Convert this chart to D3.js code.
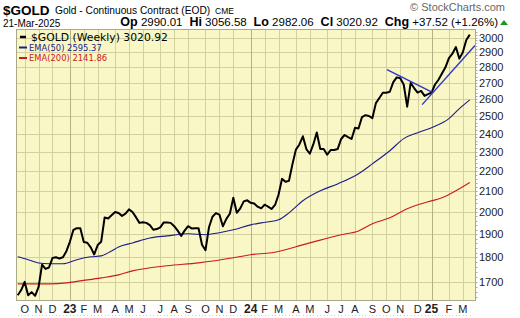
<!DOCTYPE html>
<html><head><meta charset="utf-8">
<script src="https://cdn.jsdelivr.net/npm/d3@7"></script>
<style>html,body{margin:0;padding:0;background:#fff;} svg{display:block;} text{white-space:pre;}</style>
</head><body><svg id="c" width="520" height="318"></svg>
<script>
// ---- data (weekly closes, Fridays from 23-Sep-2022 to 21-Mar-2025) ----
const firstWeek = new Date(2022, 8, 23);
const lastWeek = new Date(2025, 2, 21);
const closes = [
  1648,1668,1700,1648,1660,1646,1680,1770,1752,1758,1797,1800,1795,1800,1826,
  1866,1918,1926,1926,1865,1862,1842,1812,1852,1866,1975,1970,1985,2000,1995,
  1982,1992,2012,2000,1976,1950,1953,1950,1940,1919,1922,1930,1952,1952,1950,
  1935,1915,1892,1915,1935,1925,1926,1926,1853,1830,1930,1978,1995,1988,1935,
  1968,1992,2067,1996,2017,2050,2055,
  2043,2040,2025,2017,2034,2025,2014,2033,2082,2160,2146,2150,2235,2312,2340,
  2385,2315,2290,2340,2406,2315,2315,2285,2310,2310,2315,2370,2392,2380,2370,
  2433,2428,2494,2505,2500,2488,2576,2607,2639,2639,2645,2705,2735,2730,2690,
  2555,2700,2668,2640,2650,2620,2630,
  2640,2690,2720,2760,2800,2860,2890,2935,2857,2900,2983.4,3020.92
];
// EMA readings: [week index, value]
const ema50 = [[0,1802],[3,1790],[6,1776],[9,1773],[13,1773],[17,1790],[21,1802],[24,1806],
  [27,1827],[29,1844],[33,1861],[38,1883],[43,1892],[49,1901],[54,1897],[58,1906],[62,1919],
  [67,1941],[70,1950],[75,1964],[78,1996],[82,2053],[87,2101],[92,2135],[98,2186],[102,2237],
  [107,2306],[111,2372],[115,2405],[119,2433],[124,2485],[127,2543],[130,2595.37]];
const ema200 = [[0,1692],[9,1692],[14,1696],[18,1704],[24,1716],[29,1728],[33,1744],[43,1765],
  [52,1777],[62,1798],[67,1811],[73,1819],[83,1857],[93,1897],[98,1914],[102,1946],[107,1973],
  [112,2015],[118,2048],[122,2067],[126,2101],[130,2141.86]];
const trendDown = [[106.2,2785],[119.4,2639]];
const trendUp = [[116.3,2567],[131.5,2945]];
const yTicks = [1700,1800,1900,2000,2100,2200,2300,2400,2500,2600,2700,2800,2900,3000];
const monthLabels = ["O","N","D","23","F","M","A","M","J","J","A","S","O","N","D","24",
  "F","M","A","M","J","J","A","S","O","N","D","25","F","M"];

// ---- chart ----
const svg = d3.select("#c");
const L = 16.5, R = 475.5, T = 29.5, B = 300.5;
const dates = d3.timeFriday.range(firstWeek, d3.timeDay.offset(lastWeek, 1));
const x = d3.scaleLinear().domain([-0.35, 131.5]).range([L, 475]);
const y = d3.scaleLog().domain([1628, 3057]).range([B, T]);

svg.append("rect").attr("width",520).attr("height",318).attr("fill","#fff");
svg.append("rect").attr("x",L).attr("y",T).attr("width",R-L).attr("height",B-T).attr("fill","#f9f7c5");

// month starts
const monthIdx = [];
dates.forEach((d,i)=>{ if(i>0 && d.getMonth()!==dates[i-1].getMonth()) monthIdx.push(i); });

const grid = svg.append("g");
yTicks.forEach(v=>{
  grid.append("line").attr("x1",L).attr("x2",R).attr("y1",Math.round(y(v))+0.5).attr("y2",Math.round(y(v))+0.5)
    .attr("stroke","#d3d1a0").attr("stroke-width",1);
});
monthIdx.forEach((i,k)=>{
  const isYear = dates[i].getMonth()===0;
  const xx = Math.round(x(i))+0.5;
  grid.append("line").attr("x1",xx).attr("x2",xx).attr("y1",T).attr("y2",B)
    .attr("stroke", isYear? "#b3b186":"#d3d1a0").attr("stroke-width",1);
});

// lines
svg.append("clipPath").attr("id","pc").append("rect").attr("x",L).attr("y",T).attr("width",R-L).attr("height",B-T);
const pg = svg.append("g").attr("clip-path","url(#pc)");
const lineIdx = d3.line().x(d=>x(d[0])).y(d=>y(d[1])).curve(d3.curveMonotoneX);
pg.append("path").datum(ema200).attr("d",lineIdx).attr("fill","none").attr("stroke","#cc1a1a").attr("stroke-width",1.1);
pg.append("path").datum(ema50).attr("d",lineIdx).attr("fill","none").attr("stroke","#1c1c8a").attr("stroke-width",1.1);
pg.append("path").datum(closes.map((v,i)=>[i,v])).attr("d",d3.line().x(d=>x(d[0])).y(d=>y(d[1])))
  .attr("fill","none").attr("stroke","#000").attr("stroke-width",2).attr("stroke-linejoin","round");
const straight = d3.line().x(d=>x(d[0])).y(d=>y(d[1]));
[trendDown, trendUp].forEach(t=>{
  pg.append("path").datum(t).attr("d",straight).attr("fill","none").attr("stroke","#2b35c8").attr("stroke-width",1.4);
});

// frame
svg.append("rect").attr("x",L).attr("y",T).attr("width",R-L).attr("height",B-T).attr("fill","none").attr("stroke","#aaa98a");

// y axis labels + minor ticks
const ya = svg.append("g");
d3.range(1640, 3060, 20).forEach(v=>{
  ya.append("line").attr("x1",R).attr("x2",R+2).attr("y1",Math.round(y(v))+0.5).attr("y2",Math.round(y(v))+0.5).attr("stroke","#aaa");
});
yTicks.forEach(v=>{
  ya.append("text").attr("x",479).attr("y",y(v)+4).text(v)
    .attr("font-family","Liberation Sans, Arial, sans-serif").attr("font-size",11).attr("fill","#222");
});

// x axis labels
const xa = svg.append("g");
dates.forEach((d,i)=>{
  xa.append("rect").attr("x",Math.round(x(i))).attr("y",315).attr("width",1).attr("height",1).attr("fill","#ccc");
});
monthIdx.forEach((i,k)=>{
  const lab = monthLabels[k];
  const isYear = /\d/.test(lab);
  xa.append("text").attr("x",x(i)).attr("y",313).attr("text-anchor","middle").text(lab)
    .attr("font-family","Liberation Sans, Arial, sans-serif")
    .attr("font-size", isYear?12:11).attr("font-weight", isYear?"bold":"normal").attr("fill","#222");
});

// header
const hf = "Liberation Sans, Arial, sans-serif";
svg.append("text").attr("x",3).attr("y",14.5).text("$GOLD").attr("font-family",hf).attr("font-weight","bold").attr("font-size",13.5).attr("fill","#000");
svg.append("text").attr("x",55).attr("y",14).text("Gold - Continuous Contract (EOD)").attr("font-family",hf).attr("font-size",10.2).attr("fill","#000");
svg.append("text").attr("x",215).attr("y",14).text("CME").attr("font-family",hf).attr("font-size",8.5).attr("fill","#000");
svg.append("text").attr("x",505).attr("y",11).attr("text-anchor","end").text("© StockCharts.com").attr("font-family",hf).attr("font-size",11).attr("fill","#666");
svg.append("text").attr("x",3).attr("y",27).text("21-Mar-2025").attr("font-family",hf).attr("font-size",10).attr("fill","#000");
const st = svg.append("text").attr("x",498).attr("y",26).attr("text-anchor","end").attr("font-family",hf).attr("font-size",11.5).attr("fill","#000");
[["Op","2990.01"],["Hi","3056.58"],["Lo","2982.06"],["Cl","3020.92"],["Chg","+37.52 (+1.26%)"]].forEach((p,k)=>{
  st.append("tspan").attr("font-weight","bold").attr("font-size",12.5).text((k? "  ":"")+p[0]);
  st.append("tspan").text(" "+p[1]);
});
svg.append("path").attr("d","M500,25 L504,20 L508,25 Z").attr("fill","#1a9a1a");

// legend
const lf = "DejaVu Sans, Verdana, sans-serif";
const legend = [["$GOLD (Weekly) 3020.92","#000",10.8,37,2.5],["EMA(50) 2595.37","#1c1c8a",8.4,47.5,2],["EMA(200) 2141.86","#cc1a1a",8.4,58,2]];
legend.forEach((l,k)=>{
  svg.append("line").attr("x1",k?19:20).attr("x2",k?27:26).attr("y1",l[3]).attr("y2",l[3]).attr("stroke",l[1]).attr("stroke-width",l[4]);
  svg.append("text").attr("x",k?29:31).attr("y",l[3]+(k?3:3.8)).text(l[0]).attr("font-family",lf).attr("font-size",l[2]).attr("fill",l[1]);
});
</script></body></html>
